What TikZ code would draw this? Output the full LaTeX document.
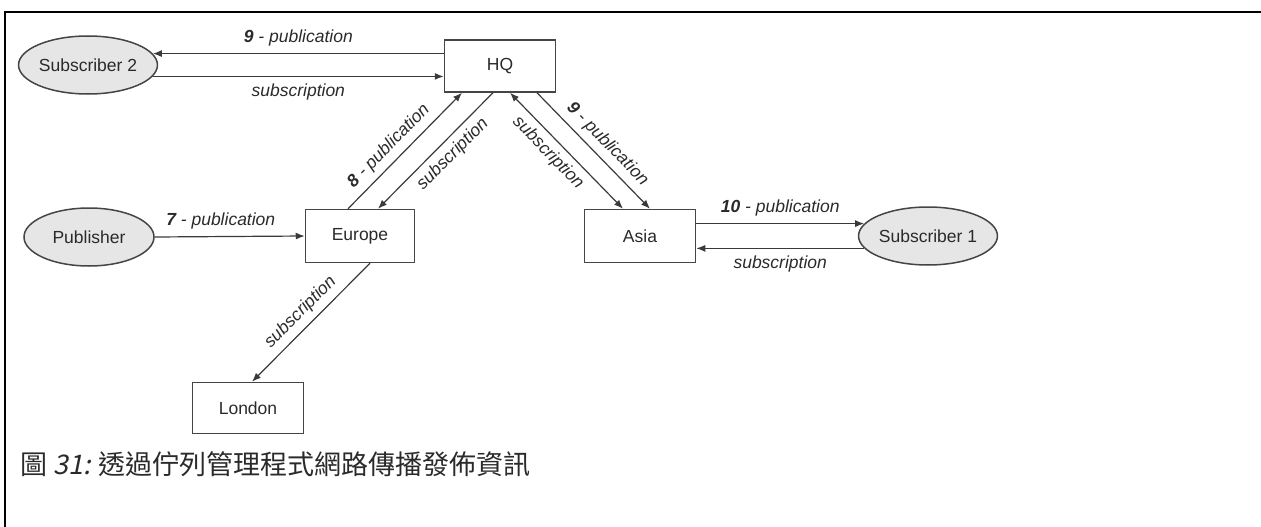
\documentclass[tikz,border=0pt]{standalone}
\usepackage{fontspec}
\setmainfont{Liberation Sans}
\newfontfamily\cjk{Noto Sans CJK TC}
\newfontfamily\cjkit[FakeSlant=0.2]{Noto Sans CJK TC}
\usetikzlibrary{shapes.geometric,arrows.meta}
\definecolor{boxc}{HTML}{454545}
\definecolor{linec}{HTML}{3A3A3A}
\definecolor{ovalfill}{HTML}{E6E6E6}
\definecolor{txtc}{HTML}{2A2A2A}
\begin{document}
\begin{tikzpicture}[x=1pt,y=-1pt,
  nodefont/.style={font=\fontsize{17.5}{20}\selectfont, text=txtc},
  box/.style={draw=boxc, line width=1.5pt, minimum width=111pt, minimum height=52pt, inner sep=0pt, nodefont},
  oval/.style={ellipse, draw=boxc, fill=ovalfill, line width=1.5pt, minimum width=127pt, minimum height=58pt, inner sep=0pt, nodefont},
  lbl/.style={font=\fontsize{17.5}{20}\selectfont\itshape, text=txtc, inner sep=2pt},
  arr/.style={draw=linec, line width=1.2pt, -{Latex[length=9pt,width=7pt]}},
  rarr/.style={draw=linec, line width=1.2pt, {Latex[length=9pt,width=7pt]}-},
  barr/.style={draw=linec, line width=1.2pt, {Latex[length=9pt,width=7pt]}-{Latex[length=9pt,width=7pt]}}
]
\useasboundingbox (0,0) rectangle (1261,527);
\draw[line width=2.5pt, line join=miter] (5,527) -- (5,12) -- (1261,12);

\node[oval] (Sub2) at (88,65) {Subscriber 2};
\node[box] (HQ) at (500,66) {HQ};
\node[oval, minimum width=130pt] (Pub) at (89,237) {Publisher};
\node[box, minimum width=109pt, minimum height=53pt] (Europe) at (360,236) {Europe};
\node[box, minimum height=53pt] (Asia) at (640,236) {Asia};
\node[oval] (Sub1) at (928,236) {Subscriber 1};
\node[box, minimum height=51pt] (London) at (248,408) {London};

\draw[arr] (HQ.west |- Sub2.10) -- (Sub2.10)
  node[lbl, midway, above=5pt] {\textbf{9} - publication};
\draw[arr] (Sub2.-10) -- (HQ.west |- Sub2.-10)
  node[lbl, midway, below=5pt] {subscription};
\draw[arr] (Pub.east) -- (Europe.west)
  node[lbl, pos=0.44, above=5pt] {\textbf{7} - publication};
\draw[arr] (Asia.east |- Sub1.169) -- (Sub1.169)
  node[lbl, midway, above=5pt] {\textbf{10} - publication};
\draw[arr] (Sub1.191) -- (Asia.east |- Sub1.191)
  node[lbl, midway, below=5pt] {subscription};

\draw[arr] ([xshift=-12pt]Europe.north) -- ([xshift=-38pt]HQ.south)
  node[lbl, pos=0.45, sloped, above=4pt] {\textbf{8} - publication};
\draw[rarr] ([xshift=18pt]Europe.north) -- ([xshift=-7pt]HQ.south)
  node[lbl, pos=0.56, sloped, below=4pt] {subscription};
\draw[barr] ([xshift=10pt]HQ.south) -- ([xshift=-17pt]Asia.north)
  node[lbl, pos=0.43, sloped, below=4pt] {subscription};
\draw[arr] ([xshift=37pt]HQ.south) -- ([xshift=10pt]Asia.north)
  node[lbl, pos=0.53, sloped, above=4pt] {\textbf{9} - publication};
\draw[rarr] ([xshift=4pt]London.north) -- ([xshift=10pt]Europe.south)
  node[lbl, pos=0.5, sloped, above=4pt] {subscription};

\node[anchor=base west, inner sep=0pt, text=txtc, font=\fontsize{27}{31}\selectfont\cjk] (cap) at (20,474) {圖 {\cjkit 31:} 透過佇列管理程式網路傳播發佈資訊};
\end{tikzpicture}
\end{document}
